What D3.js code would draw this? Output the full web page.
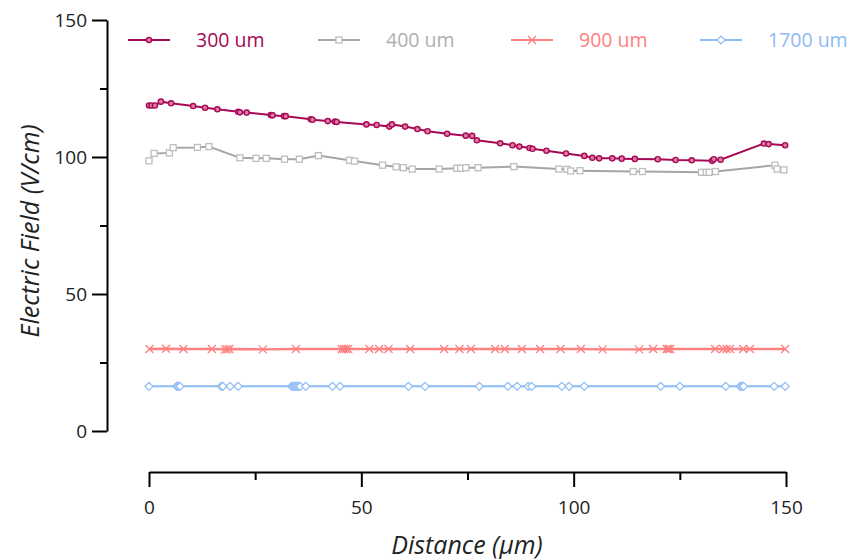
<!DOCTYPE html>
<html>
  <head>
    <script type="text/javascript" src="https://cdn.jsdelivr.net/npm/d3@7"></script>
    <style>
      body {
        margin: 0;
        background: #fff;
      }
      .axis text {
        fill: #222;
        font: 19px 'Open Sans', sans-serif;
      }
      .axis path,
      .axis line {
        fill: none;
        stroke: #000;
        stroke-width: 2px;
      }
      .title {
        font: italic 25px 'Open Sans', sans-serif;
        fill: #222;
      }
      .legend text {
        font: 19.5px 'Open Sans', sans-serif;
      }
    </style>
  </head>
  <body>
    <svg id="chart"></svg>

    <script type="text/javascript">
      // series names and colours
      var seriesNames = ['300 um', '400 um', '900 um', '1700 um'];
      var seriesColors = ['#A50A55', '#A6A6A6', '#FF8080', '#8DBBF4'];
      var markerColors = ['#A50A55', '#BDBDBD', '#FF8080', '#8DBBF4'];

      // 300 um
      var x300 = [0, 0.6, 1.4, 2.8, 5.2, 10.4, 13.2, 16.1, 21.0, 21.4, 23.0, 28.7, 29.1, 31.8, 32.2,
        38.1, 38.5, 42.1, 43.8, 44.2, 51.2, 53.6, 56.6, 57.2, 60.3, 63.2, 65.6, 70.2, 74.6, 76.1,
        77.2, 82.7, 85.6, 87.2, 89.6, 90.3, 93.6, 98.2, 102.5, 104.4, 106.0, 109.1, 111.3, 114.4,
        119.8, 124.0, 127.8, 132.6, 133.0, 134.6, 144.8, 145.9, 149.8];
      var y300 = [118.8, 118.8, 118.8, 120.2, 119.6, 118.6, 118.0, 117.4, 116.5, 116.3, 116.2, 115.3, 115.2, 114.9, 114.9,
        113.8, 113.6, 113.1, 112.9, 112.8, 111.9, 111.7, 111.1, 111.9, 111.1, 110.2, 109.4, 108.5, 107.8, 107.7,
        106.1, 105.0, 104.3, 103.8, 103.3, 103.0, 102.3, 101.3, 100.4, 99.7, 99.5, 99.5, 99.4, 99.3,
        99.2, 98.9, 98.8, 98.6, 99.2, 99.0, 104.9, 104.7, 104.3];

      // 400 um
      var x400 = [0, 1.2, 4.8, 5.7, 11.4, 14.1, 21.4, 25.2, 27.6, 31.9, 35.4, 39.9, 47.2, 48.4,
        55.0, 58.2, 59.9, 62.0, 68.3, 72.5, 73.4, 74.6, 77.5, 85.9, 96.5, 98.4, 99.3, 101.5,
        114.0, 116.2, 130.1, 131.2, 131.9, 133.4, 147.4, 147.9, 149.5];
      var y400 = [98.6, 101.3, 101.5, 103.4, 103.5, 103.8, 99.7, 99.5, 99.5, 99.2, 99.2, 100.5, 98.8, 98.5,
        97.0, 96.4, 96.1, 95.6, 95.6, 95.9, 95.9, 96.1, 96.1, 96.5, 95.6, 95.5, 94.9, 95.0,
        94.7, 94.7, 94.4, 94.4, 94.4, 94.7, 97.0, 95.6, 95.3];

      // 900 um
      var x900 = [0.1, 4.0, 8.1, 14.8, 17.9, 18.4, 18.9, 26.8, 34.6, 45.4, 45.9, 46.4, 46.9, 51.9, 54.2,
        56.4, 61.5, 69.5, 73.1, 75.8, 81.5, 83.8, 87.8, 92.1, 96.9, 101.7, 106.8, 115.4, 118.7,
        121.9, 122.3, 122.7, 133.3, 135.2, 136.0, 136.8, 139.9, 141.5, 149.8];
      var y900 = [29.9, 30.0, 29.9, 29.9, 29.8, 29.8, 29.9, 29.8, 29.9, 29.9, 29.9, 29.9, 29.9, 29.9, 29.9,
        29.9, 29.9, 29.9, 29.9, 29.9, 29.9, 29.9, 29.9, 29.9, 29.9, 29.9, 29.8, 29.8, 29.9,
        29.9, 29.9, 29.9, 29.9, 29.9, 29.9, 29.9, 29.9, 29.9, 29.9];

      // 1700 um
      var x1700 = [0, 6.5, 6.9, 7.3, 17.0, 17.4, 19.1, 21.0, 33.6, 34.0, 34.4, 34.8, 35.2, 35.6, 36.9,
        43.2, 45.0, 61.1, 65.0, 77.8, 84.5, 86.7, 89.3, 90.1, 97.2, 98.9, 102.5, 120.5, 125.0,
        135.8, 139.2, 139.6, 140.0, 147.2, 149.8];
      var y1700 = [16.3, 16.3, 16.3, 16.3, 16.3, 16.3, 16.3, 16.3, 16.3, 16.3, 16.3, 16.3, 16.3, 16.3, 16.3,
        16.3, 16.3, 16.3, 16.3, 16.3, 16.3, 16.3, 16.3, 16.3, 16.3, 16.3, 16.3, 16.3, 16.3,
        16.3, 16.3, 16.3, 16.3, 16.3, 16.3];

      var xTicks = [0, 50, 100, 150];
      var xMinor = [25, 75, 125];
      var yTicks = [0, 50, 100, 150];
      var yMinor = [25, 75, 125];

      var allX = [x300, x400, x900, x1700];
      var allY = [y300, y400, y900, y1700];

      var width = 855,
        height = 559;
      var svg = d3.select('#chart').attr('width', width).attr('height', height);

      var xScale = d3.scaleLinear().domain([0, 150]).range([149, 786]);
      var yScale = d3.scaleLinear().domain([0, 150]).range([431, 20]);

      // y axis (offset to the left of the plot)
      svg
        .append('g')
        .attr('class', 'axis')
        .attr('transform', 'translate(107,0)')
        .call(d3.axisLeft(yScale).tickValues(yTicks).tickSize(15).tickSizeOuter(0).tickPadding(5));
      svg
        .append('g')
        .attr('class', 'axis')
        .attr('transform', 'translate(107,0)')
        .call(d3.axisLeft(yScale).tickValues(yMinor).tickSize(7).tickFormat(''))
        .select('.domain')
        .remove();

      // x axis (offset below the plot)
      svg
        .append('g')
        .attr('class', 'axis')
        .attr('transform', 'translate(0,472)')
        .call(d3.axisBottom(xScale).tickValues(xTicks).tickSize(15).tickSizeOuter(0).tickPadding(14));
      svg
        .append('g')
        .attr('class', 'axis')
        .attr('transform', 'translate(0,472)')
        .call(d3.axisBottom(xScale).tickValues(xMinor).tickSize(8).tickFormat(''))
        .select('.domain')
        .remove();

      // axis titles
      svg
        .append('text')
        .attr('class', 'title')
        .attr('text-anchor', 'middle')
        .attr('x', 467)
        .attr('y', 554)
        .text('Distance (μm)');
      svg
        .append('text')
        .attr('class', 'title')
        .attr('text-anchor', 'middle')
        .attr('transform', 'translate(39,231) rotate(-90)')
        .text('Electric Field  (V/cm)');

      // marker drawing per series
      function drawMarker(g, i, cx, cy) {
        var c = markerColors[i];
        if (i == 0) {
          g.append('circle').attr('cx', cx).attr('cy', cy).attr('r', 2.6)
            .attr('fill', '#E27AA8').attr('stroke', c).attr('stroke-width', 1.4);
        } else if (i == 1) {
          g.append('rect').attr('x', cx - 3).attr('y', cy - 3).attr('width', 6).attr('height', 6)
            .attr('fill', '#fff').attr('stroke', c).attr('stroke-width', 1.3);
        } else if (i == 2) {
          g.append('path')
            .attr('d', 'M' + (cx - 4) + ',' + (cy - 4) + 'L' + (cx + 4) + ',' + (cy + 4) +
              'M' + (cx - 4) + ',' + (cy + 4) + 'L' + (cx + 4) + ',' + (cy - 4))
            .attr('stroke', c).attr('stroke-width', 1.3);
        } else {
          g.append('path')
            .attr('d', 'M' + cx + ',' + (cy - 4) + 'L' + (cx + 4) + ',' + cy + 'L' + cx + ',' + (cy + 4) +
              'L' + (cx - 4) + ',' + cy + 'Z')
            .attr('fill', '#fff').attr('stroke', c).attr('stroke-width', 1.2);
        }
      }

      var line = d3
        .line()
        .x(function (d) { return xScale(d[0]); })
        .y(function (d) { return yScale(d[1]); });

      // draw the series, last one first so 300 um stays on top
      for (var s = 3; s >= 0; s--) {
        var pts = allX[s].map(function (x, j) { return [x, allY[s][j]]; });
        var g = svg.append('g').attr('class', 'series');
        g.append('path')
          .datum(pts)
          .attr('d', line)
          .attr('fill', 'none')
          .attr('stroke', seriesColors[s])
          .attr('stroke-width', s == 2 ? 2.4 : 2);
        pts.forEach(function (p) {
          drawMarker(g, s, xScale(p[0]), yScale(p[1]));
        });
      }

      // legend
      var legendX = [128, 318, 511, 700];
      var legend = svg.append('g').attr('class', 'legend');
      seriesNames.forEach(function (name, i) {
        var lx = legendX[i];
        legend.append('line')
          .attr('x1', lx).attr('x2', lx + 42).attr('y1', 40).attr('y2', 40)
          .attr('stroke', seriesColors[i]).attr('stroke-width', 2);
        drawMarker(legend, i, lx + 21, 40);
        legend.append('text')
          .attr('x', lx + 68)
          .attr('y', 40)
          .attr('dy', '0.35em')
          .attr('fill', seriesColors[i] == '#A6A6A6' ? '#AFAFAF' : seriesColors[i])
          .text(name);
      });
    </script>
  </body>
</html>
